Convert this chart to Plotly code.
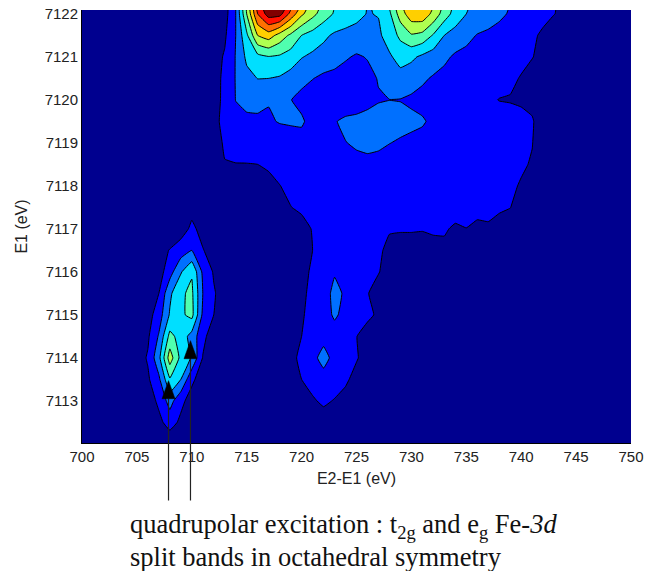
import plotly.graph_objects as go

# E2-E1 grid (eV), E1 grid (eV)
e_loss = [700] + list(range(705, 745)) + [750]
e_in = [7112.0, 7112.5, 7113.0, 7113.5, 7114.0, 7114.5, 7115.0, 7115.5, 7116.0, 7116.5, 7117.0,
        7117.5, 7118.0, 7118.5, 7119.0, 7119.5, 7120.0, 7120.5, 7121.0, 7121.5, 7122.0, 7122.5]

# intensity rows: 700 | 705-714 | 715-724 | 725-734 | 735-744 | 750
r7112 = [.3, .3,.3,.3,.3,.3,.3,.3,.3,.3,.3, .3,.3,.3,.3,.3,.3,.3,.3,.3,.3, .3,.3,.3,.3,.3,.3,.3,.3,.3,.3, .3,.3,.3,.3,.3,.3,.3,.3,.3,.3, .3]
r7112_5 = [.3, .3,.4,.75,1.4,.8,.4,.3,.3,.3,.3, .3,.3,.3,.3,.3,.3,.35,.6,.4,.3, .3,.3,.3,.3,.3,.3,.3,.3,.3,.3, .3,.3,.3,.3,.3,.3,.3,.3,.3,.3, .3]
r7113 = [.3, .3,.5,1.2,2.4,1.25,.6,.3,.3,.3,.3, .3,.3,.3,.3,.3,.5,.9,1.15,.95,.6, .3,.3,.3,.3,.3,.3,.3,.3,.3,.3, .3,.3,.3,.3,.3,.3,.3,.3,.3,.3, .3]
r7113_5 = [.3, .4,.85,1.8,3.9,3.0,1.2,.5,.3,.3,.3, .3,.3,.3,.3,.5,1.0,1.3,1.45,1.4,1.2, .6,.3,.3,.3,.3,.3,.3,.3,.3,.3, .3,.3,.3,.3,.3,.3,.3,.3,.3,.3, .3]
r7114 = [.3, .5,1.1,2.7,5.5,3.7,2.9,.95,.4,.3,.3, .3,.3,.3,.3,.7,1.25,1.6,2.5,1.55,1.4, 1.1,.5,.3,.3,.3,.3,.3,.3,.3,.3, .3,.3,.3,.3,.3,.3,.3,.3,.3,.3, .3]
r7114_5 = [.3, .5,.85,2.1,4.3,3.6,2.6,1.3,.4,.3,.3, .3,.3,.3,.3,.4,1.0,1.3,1.55,1.7,1.5, 1.02,.6,.3,.3,.3,.3,.3,.3,.3,.3, .3,.3,.3,.3,.3,.3,.3,.3,.3,.3, .3]
r7115 = [.3, .4,.6,1.5,3.1,3.8,4.3,1.8,1.0,.5,.3, .3,.3,.3,.3,.4,.9,1.3,1.7,2.1,1.8, 1.5,1.2,.85,.3,.3,.3,.3,.3,.3,.3, .3,.3,.3,.3,.3,.3,.3,.3,.3,.3, .3]
r7115_5 = [.3, .3,.5,1.0,2.8,3.85,4.2,2.0,1.1,.5,.3, .3,.3,.3,.3,.4,.8,1.25,1.5,2.3,1.85, 1.4,1.05,.6,.3,.3,.3,.3,.3,.3,.3, .3,.3,.3,.3,.3,.3,.3,.3,.3,.3, .3]
r7116 = [.3, .3,.3,.55,1.6,2.9,3.9,1.8,.9,.5,.3, .3,.3,.3,.3,.4,.8,1.1,1.4,1.9,1.6, 1.4,1.3,1.05,.6,.3,.3,.3,.3,.3,.3, .3,.3,.3,.3,.3,.3,.3,.3,.3,.3, .3]
r7116_5 = [.3, .3,.3,.6,1.05,1.5,2.0,1.05,.6,.3,.3, .3,.3,.3,.3,.5,.7,1.0,1.2,1.3,1.3, 1.25,1.2,1.1,.85,.85,.85,.85,.88,.9,.75, .6,.4,.3,.3,.3,.3,.3,.3,.3,.3, .3]
r7117 = [.3, .3,.3,.3,.3,.55,1.2,.7,.3,.3,.3, .3,.3,.3,.4,.5,.7,1.05,1.2,1.25,1.25, 1.25,1.2,1.2,1.05,1.03,1.03,1.02,1.05,1.05,.93, .99,.89,.94,.74,.5,.3,.3,.3,.3,.3, .3]
r7117_5 = [.3, .3,.3,.3,.3,.3,.7,.35,.3,.3,.3, .3,.35,.45,.7,.98,1.15,1.25,1.25,1.25,1.25, 1.25,1.25,1.25,1.25,1.25,1.25,1.25,1.2,1.2,1.2, 1.2,1.15,1.12,1.1,1.02,.6,.3,.3,.3,.3, .3]
r7118 = [.3, .3,.3,.3,.3,.3,.3,.3,.3,.3,.4, .5,.6,.7,.98,1.2,1.3,1.35,1.4,1.35,1.3, 1.3,1.3,1.3,1.3,1.25,1.25,1.25,1.2,1.2,1.2, 1.2,1.15,1.15,1.1,1.1,.95,.4,.3,.3,.3, .3]
r7118_5 = [.3, .3,.3,.3,.3,.3,.3,.3,.4,.95,.97, .97,1.0,1.15,1.3,1.35,1.4,1.4,1.4,1.4,1.5, 1.8,1.9,1.75,1.6,1.55,1.5,1.45,1.4,1.4,1.35, 1.3,1.3,1.25,1.2,1.15,1.08,.95,.5,.3,.3, .3]
r7119 = [.3, .3,.3,.3,.3,.3,.3,.35,.5,1.15,1.4, 1.5,1.5,1.5,1.55,1.6,1.6,1.55,1.5,1.6,1.98, 2.1,2.1,2.15,2.02,1.9,1.8,1.7,1.6,1.55,1.5, 1.45,1.4,1.35,1.3,1.2,1.15,1.02,.6,.3,.3, .3]
r7119_5 = [.3, .3,.3,.3,.3,.3,.3,.4,.7,1.3,1.7, 1.85,1.85,1.9,2.05,2.1,2.15,1.6,1.5,1.95,2.15, 2.2,2.3,2.4,2.4,2.3,2.2,2.1,1.8,1.7,1.6, 1.5,1.45,1.4,1.35,1.3,1.2,1.05,.7,.3,.3, .3]
r7120 = [.3, .3,.3,.3,.3,.3,.3,.4,.6,1.25,2.02, 2.2,2.25,2.05,2.15,2.03,1.7,1.5,1.4,1.4,1.5, 1.6,1.75,1.93,1.99,1.97,1.85,1.7,1.55,1.45,1.35, 1.3,1.2,1.12,.98,.95,.9,.85,.5,.3,.3, .3]
r7120_5 = [.3, .3,.3,.3,.3,.3,.3,.4,.65,1.2,2.05, 2.7,3.02,3.0,2.9,2.6,2.3,2.03,1.8,1.7,1.6, 1.6,1.75,2.05,2.4,2.6,2.4,2.15,1.9,1.7,1.6, 1.5,1.4,1.35,1.25,1.15,.95,.5,.3,.3,.3, .3]
r7121 = [.3, .3,.3,.3,.3,.3,.3,.4,.6,1.1,2.05, 3.2,3.7,3.95,3.85,3.55,3.05,2.8,2.6,2.4,2.1, 1.9,2.05,2.2,2.85,3.4,3.2,2.8,2.5,2.2,1.85, 1.7,1.6,1.5,1.45,1.35,1.2,1.05,.6,.3,.3, .3]
r7121_5 = [.3, .3,.3,.3,.3,.3,.3,.3,.4,.85,2.0, 3.8,6.0,6.5,5.6,4.8,4.0,3.6,3.2,2.85,2.7, 2.6,2.55,2.8,3.5,4.2,4.9,4.7,3.9,3.0,2.6, 2.3,1.95,1.8,1.65,1.5,1.35,1.15,.85,.3,.3, .3]
r7122 = [.3, .3,.3,.3,.3,.3,.3,.3,.3,.6,2.0, 5.0,8.0,9.5,9.4,7.7,6.2,5.3,4.5,3.9,3.6, 3.3,2.95,3.05,3.8,5.5,6.6,6.7,5.7,4.5,3.6, 3.0,2.7,2.5,2.2,1.9,1.7,1.4,1.25,1.03,.7, .3]
r7122_5 = [.3, .3,.3,.3,.3,.3,.3,.3,.3,.5,2.0, 5.5,9.0,11.0,11.5,9.5,8.0,6.2,5.2,4.2,3.8, 3.4,3.0,3.3,4.6,6.3,7.6,7.6,6.6,5.2,4.0, 3.3,2.9,2.7,2.4,2.1,1.8,1.5,1.3,1.1,.8, .3]

intensity = [r7112, r7112_5, r7113, r7113_5, r7114, r7114_5, r7115, r7115_5, r7116, r7116_5, r7117,
             r7117_5, r7118, r7118_5, r7119, r7119_5, r7120, r7120_5, r7121, r7121_5, r7122, r7122_5]

band_colors = ["#00008f", "#0000ff", "#0070ff", "#00dfff", "#50ffaf",
               "#afff50", "#ffcf00", "#ff7000", "#ff1000", "#800000"]
colorscale = []
for i, c in enumerate(band_colors):
    colorscale.append([i / 10, c])
    colorscale.append([(i + 1) / 10, c])

x_ticks = [700, 705, 710, 715, 720, 725, 730, 735, 740, 745, 750]
y_ticks = [7113, 7114, 7115, 7116, 7117, 7118, 7119, 7120, 7121, 7122]

# arrows: x position, tip E1, base E1
arrow_x = [707.88, 709.88]
arrow_tip = [7113.47, 7114.40]
arrow_base = [7113.05, 7113.98]
arrow_half = 0.59

W, H = 656, 571
L, R, T, B = 82, 631, 10, 443
Y_MIN, Y_MAX = 7112.02, 7122.09


def px_x(px):
    return px / W


def px_y(py):
    return 1 - py / H


fig = go.Figure(go.Contour(
    x=e_loss, y=e_in, z=intensity,
    zmin=0, zmax=10, zauto=False,
    colorscale=colorscale, showscale=False, hoverinfo="skip",
    contours=dict(start=1, end=9, size=1, coloring="fill", showlines=True),
    line=dict(color="#000000", width=1, smoothing=0.3),
))

shapes = []
for ax, tip, base in zip(arrow_x, arrow_tip, arrow_base):
    shapes.append(dict(type="line", xref="x", yref="paper", x0=ax, x1=ax,
                       y0=px_y(500.5), y1=px_y(B - (base - Y_MIN) / (Y_MAX - Y_MIN) * (B - T)),
                       line=dict(color="#222222", width=1.2), layer="above"))
    shapes.append(dict(type="path", xref="x", yref="y",
                       path=f"M {ax - arrow_half} {base} L {ax + arrow_half} {base} L {ax} {tip} Z",
                       fillcolor="#000000", line=dict(color="#000000", width=0.5), layer="above"))

font_sans = "Liberation Sans, Arial, sans-serif"
font_serif = "Liberation Serif, Times New Roman, serif"

fig.update_layout(
    width=W, height=H, autosize=False,
    margin=dict(l=0, r=0, t=0, b=0, pad=0, autoexpand=False),
    paper_bgcolor="white", plot_bgcolor="white",
    font=dict(family=font_sans, size=15, color="#222222"),
    shapes=shapes,
    xaxis=dict(domain=[px_x(L), px_x(R)], range=[700, 750], tickmode="array", tickvals=x_ticks, ticks="",
               automargin=False,
               showgrid=False, zeroline=False, showline=True, linecolor="#000000", linewidth=1,
               title=dict(text="E2-E1 (eV)", font=dict(size=16), standoff=8),
               tickfont=dict(size=15)),
    yaxis=dict(domain=[px_y(B), px_y(T)], range=[Y_MIN, Y_MAX], tickmode="array", tickvals=y_ticks,
               automargin=False,
               tickformat="d", ticks="", showgrid=False, zeroline=False, showline=True,
               linecolor="#000000", linewidth=1,
               title=dict(text="E1 (eV)", font=dict(size=16), standoff=13),
               tickfont=dict(size=15)),
    annotations=[
        dict(text="quadrupolar excitation : t<sub>2g</sub> and e<sub>g</sub> Fe-<i>3d</i>",
             xref="paper", yref="paper", x=px_x(128), y=px_y(526),
             xanchor="left", yanchor="middle", showarrow=False,
             font=dict(family=font_serif, size=26.5, color="#111111")),
        dict(text="split bands in octahedral symmetry",
             xref="paper", yref="paper", x=px_x(128), y=px_y(557),
             xanchor="left", yanchor="middle", showarrow=False,
             font=dict(family=font_serif, size=26.5, color="#111111")),
    ],
)

fig.write_html("out.html", config={"displayModeBar": False},
               post_script="document.body.style.margin='0';")
